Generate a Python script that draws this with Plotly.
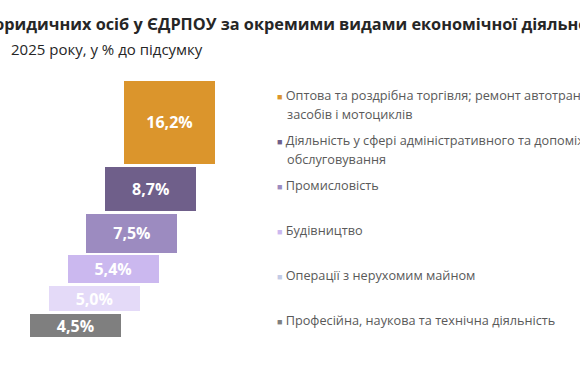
import plotly.graph_objects as go

# ---- data ----
categories = [
    "Оптова та роздрібна торгівля; ремонт автотранспортних\nзасобів і мотоциклів",
    "Діяльність у сфері адміністративного та допоміжного\nобслуговування",
    "Промисловість",
    "Будівництво",
    "Операції з нерухомим майном",
    "Професійна, наукова та технічна діяльність",
]
values = [16.2, 8.7, 7.5, 5.4, 5.0, 4.5]
bar_colors = ["#DB952C", "#6F5F8A", "#9C8BC0", "#CBB8EF", "#E4DAF8", "#7F7F7F"]
legend_colors = ["#DB952C", "#6F5F8A", "#9C8BC0", "#CBB8EF", "#C3CBE6", "#7F7F7F"]
title_line1 = "юридичних осіб у ЄДРПОУ за окремими видами економічної діяльності"
title_line2 = "2025 року, у % до підсумку"

# ---- layout constants ----
W, H = 580, 378
FONT = "Open Sans"
GAP = 0.55          # gap between bars, in value units
PX_PER_UNIT = 5.12  # vertical scale
TOP_PX = 81         # top of first bar in pixels
BAR_LEN = 91        # horizontal bar length (px)
STEP = 18.8         # horizontal stair step (px)
LEFT_LAST = 30      # left edge of the last bar (px)

n = len(values)
centers, bases = [], []
acc = 0.0
for i, v in enumerate(values):
    centers.append(acc + v / 2)
    acc += v + GAP
    bases.append(LEFT_LAST + (n - 1 - i) * STEP)

labels = [f"{v:.1f}%".replace(".", ",") for v in values]

y_top = -TOP_PX / PX_PER_UNIT
y_bottom = y_top + H / PX_PER_UNIT

fig = go.Figure(
    go.Bar(
        orientation="h",
        y=centers,
        x=[BAR_LEN] * n,
        base=bases,
        width=values,
        marker=dict(color=bar_colors, line=dict(width=0)),
        text=labels,
        textposition="inside",
        insidetextanchor="middle",
        constraintext="none",
        textangle=0,
        textfont=dict(family=FONT, size=16, color="white", weight="bold"),
        hoverinfo="skip",
        showlegend=False,
    )
)

annotations = [
    dict(text=f"<b>{title_line1}</b>", x=-12 / W, y=1 - 24 / H, xref="paper", yref="paper",
         xanchor="left", yanchor="middle", showarrow=False,
         font=dict(family=FONT, size=16.3, color="#262626")),
    dict(text=title_line2, x=9 / W, y=1 - 49 / H, xref="paper", yref="paper",
         xanchor="left", yanchor="middle", showarrow=False,
         font=dict(family=FONT, size=15, color="#262626")),
]

LEG_X = 275
LEG_Y0 = 95
LEG_STEP = 45
LINE_H = 19
for i, (name, col) in enumerate(zip(categories, legend_colors)):
    lines = name.split("\n")
    for j, line in enumerate(lines):
        if j == 0:
            txt = f"<span style='font-size:9px;color:{col}'>■</span> {line}"
            x = LEG_X
        else:
            txt = line
            x = LEG_X + 10
        annotations.append(dict(
            text=txt, x=x / W, y=1 - (LEG_Y0 + i * LEG_STEP + j * LINE_H) / H,
            xref="paper", yref="paper", xanchor="left", yanchor="middle",
            showarrow=False, font=dict(family=FONT, size=12.7, color="#595959"),
        ))

fig.update_layout(
    width=W, height=H,
    margin=dict(l=0, r=0, t=0, b=0),
    paper_bgcolor="white", plot_bgcolor="white",
    xaxis=dict(range=[0, W], visible=False, fixedrange=True),
    yaxis=dict(range=[y_bottom, y_top], visible=False, fixedrange=True),
    annotations=annotations,
    bargap=0,
)

fig.write_html(
    "out.html",
    config={"displayModeBar": False, "staticPlot": True},
    post_script="document.body.style.margin='0';document.body.style.overflow='hidden';",
)
